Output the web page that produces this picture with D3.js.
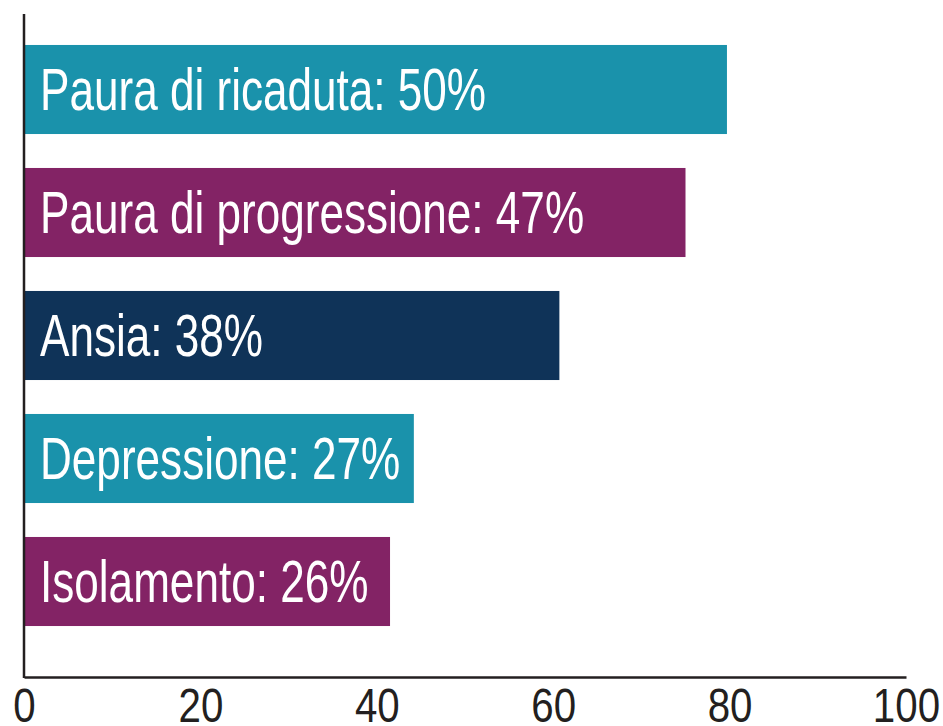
<!DOCTYPE html>
<html>
<head>
<meta charset="utf-8">
<script src="https://cdn.jsdelivr.net/npm/d3@7"></script>
<style>
  body { margin: 0; background: #fff; }
  text { font-family: "Liberation Sans", Arial, sans-serif; }
</style>
</head>
<body>
<div id="chart"></div>
<script>
// categories, the printed percentage, and the bar length
let categories = ['Paura di ricaduta', 'Paura di progressione', 'Ansia', 'Depressione', 'Isolamento']
let percents = [50, 47, 38, 27, 26]
let barValues = [79.7, 75, 60.7, 44.2, 41.5]
let barColors = ['#1a92ab', '#832365', '#0f3358', '#1a92ab', '#832365']
let xTicks = [0, 20, 40, 60, 80, 100]

let width = 943
let height = 726

// no condensed face installed, so squeeze the glyphs horizontally
let squeeze = 0.735

let data = categories.map((c, i) => ({name: c, pct: percents[i], value: barValues[i], color: barColors[i]}))

let xScale = d3.scaleLinear()
	.domain([0, 100])
	.range([24, 906])

let yScale = d3.scaleBand()
	.domain(categories)
	.range([28, 643])
	.paddingInner(0.276)
	.paddingOuter(0.138)

const svg = d3.select('#chart')
	.append('svg')
	.attr('width', width)
	.attr('height', height)

svg.selectAll('.bar')
	.data(data)
	.enter()
	.append('rect')
	.attr('class', 'bar')
	.attr('x', xScale(0) - 1)
	.attr('y', d => yScale(d.name))
	.attr('width', d => xScale(d.value) - xScale(0) + 1)
	.attr('height', yScale.bandwidth())
	.attr('fill', d => d.color)

svg.selectAll('.label')
	.data(data)
	.enter()
	.append('text')
	.attr('class', 'label')
	.attr('transform', d => `translate(40,${yScale(d.name) + yScale.bandwidth() / 2 + 20}) scale(${squeeze},1)`)
	.attr('font-size', 60)
	.attr('fill', 'white')
	.text(d => d.name + ': ' + d.pct + '%')

let axisY = 677

let xAxis = g => g.attr('transform', `translate(0,${axisY})`)
	.call(d3.axisBottom(xScale).tickValues(xTicks).tickSize(0).tickSizeOuter(0))

let xG = svg.append('g').call(xAxis)
xG.select('.domain').attr('stroke', '#231f20').attr('stroke-width', 2.5)
xG.selectAll('text')
	.attr('y', 45)
	.attr('dy', null)
	.attr('transform', 'scale(0.84,1)')
	.attr('font-size', 48)
	.attr('fill', '#231f20')
	.attr('font-family', '"Liberation Sans", Arial, sans-serif')

svg.append('line')
	.attr('x1', xScale(0))
	.attr('x2', xScale(0))
	.attr('y1', 14)
	.attr('y2', axisY + 1)
	.attr('stroke', '#231f20')
	.attr('stroke-width', 2.5)
</script>
</body>
</html>
